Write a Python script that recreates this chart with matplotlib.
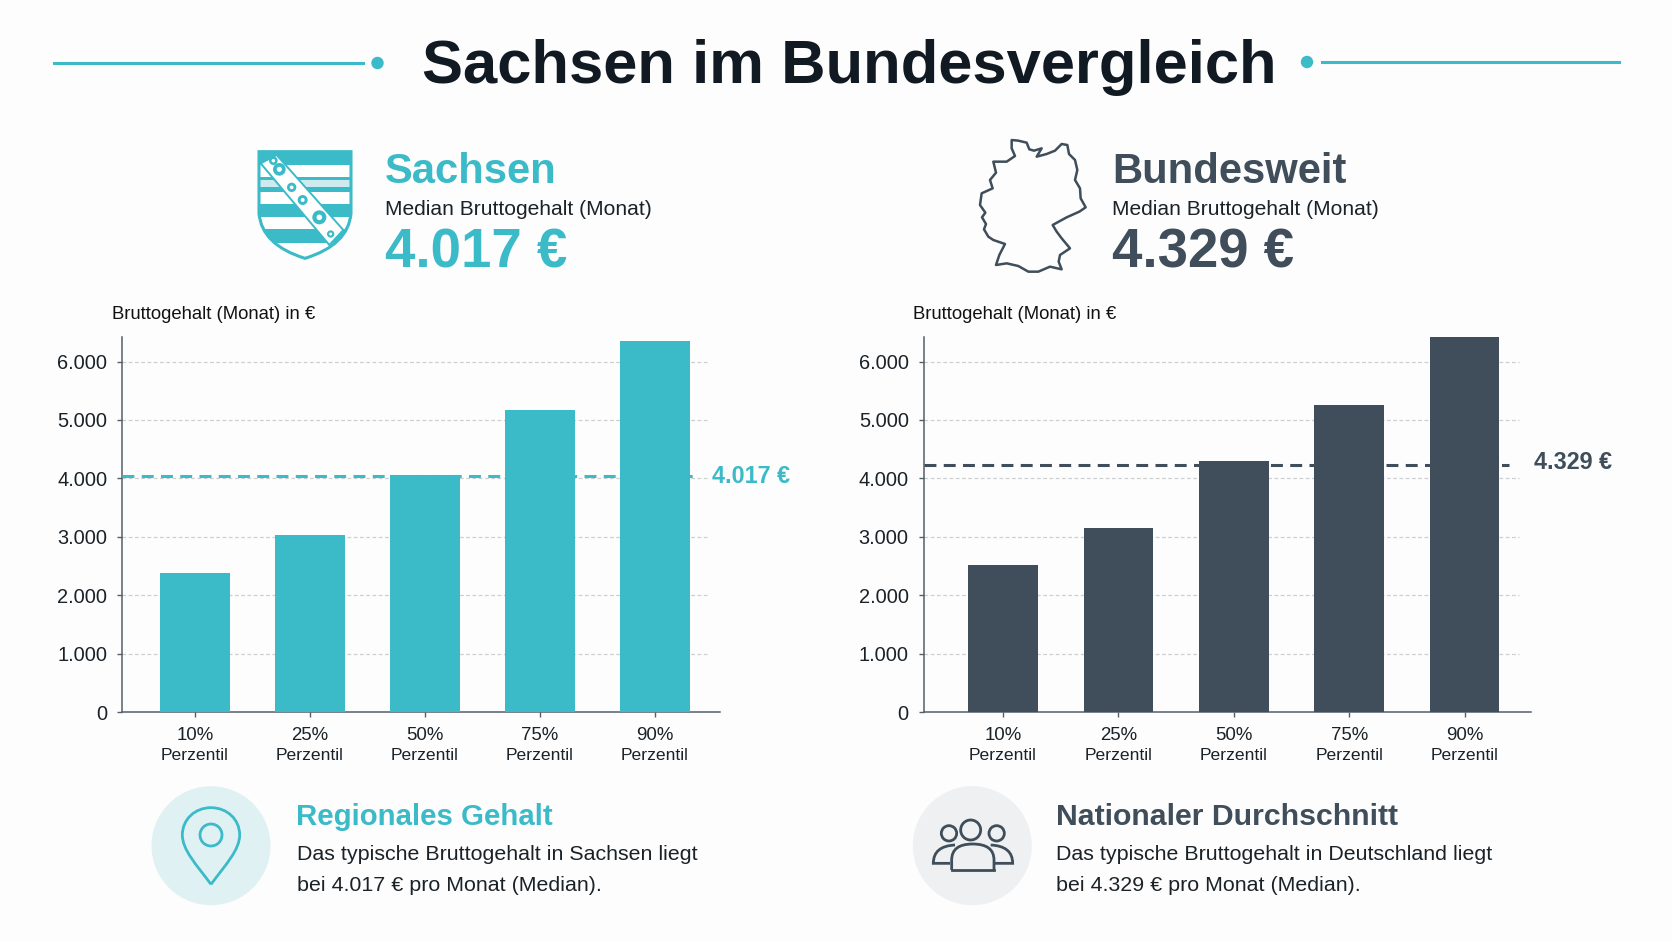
import numpy as np
import matplotlib
matplotlib.use("Agg")
import matplotlib.pyplot as plt
from matplotlib.patches import Circle, PathPatch, Polygon, Rectangle
from matplotlib.path import Path

plt.rcParams["font.family"] = ["Liberation Sans", "DejaVu Sans"]

TEAL = "#3BBAC8"
DARK = "#3F4E5A"
INK = "#111A22"
TEXT = "#1A2228"
W, H = 1672, 941

percentiles = ["10%", "25%", "50%", "75%", "90%"]
sachsen_values = [2380, 3035, 4060, 5175, 6345]
bund_values = [2525, 3145, 4300, 5250, 6420]
sachsen_line = 4040
bund_line = 4235
y_ticks = [0, 1000, 2000, 3000, 4000, 5000, 6000]
y_labels = ["0", "1.000", "2.000", "3.000", "4.000", "5.000", "6.000"]

germany = [(155, 30), (175, 32), (200, 38), (208, 58), (222, 62), (245, 55), (230, 80),
           (260, 72), (285, 62), (305, 42), (322, 45), (327, 72), (345, 90), (352, 120),
           (345, 150), (360, 175), (362, 205), (377, 232), (358, 245), (320, 262),
           (278, 285), (290, 305), (305, 325), (330, 355), (300, 375), (296, 395),
           (305, 418), (270, 410), (235, 425), (205, 425), (175, 408), (140, 400),
           (108, 405), (118, 375), (135, 342), (100, 330), (85, 320), (72, 298),
           (78, 282), (66, 262), (76, 248), (60, 225), (65, 190), (98, 175), (90, 150),
           (108, 128), (100, 95), (140, 95), (165, 78), (155, 55), (155, 30)]


def px(x, y, ox=0, oy=0, k=1):
    return ox + x / k, oy + y / k


def make_axes(fig, left, right, top, bottom):
    return fig.add_axes([left / W, 1 - bottom / H, (right - left) / W, (bottom - top) / H])


def draw_chart(ax, values, color, line_value, line_end, grid_end, first_x, step, bar_w, left, right):
    x = np.arange(len(values))
    x_min = (left - first_x) / step
    x_max = (right - first_x) / step
    ax.set_xlim(x_min, x_max)
    ax.set_ylim(0, 6421)
    ax.bar(x, values, width=bar_w / step, color=color, zorder=3)
    grid_x = (grid_end - first_x) / step
    for tick in y_ticks[1:]:
        ax.plot([x_min, grid_x], [tick, tick], color="#CDCFD1", lw=0.9, ls=(0, (3, 2)), zorder=1)
    ax.plot([x_min, (line_end - first_x) / step], [line_value, line_value], color=color, lw=2.2,
            ls=(0, (3.9, 2.4)), zorder=4)
    ax.set_yticks(y_ticks, y_labels, fontsize=14.4, color=TEXT)
    ax.set_xticks(x, percentiles, fontsize=13.4, color=TEXT)
    ax.tick_params(length=3.6, width=1, color="#555F67", pad=7)
    for i in x:
        ax.annotate("Perzentil", (i, 0), xytext=(0, -31.5), textcoords="offset points", ha="center",
                    va="center", fontsize=12.6, color=TEXT, annotation_clip=False)
    for name in ["top", "right"]:
        ax.spines[name].set_visible(False)
    for name in ["left", "bottom"]:
        ax.spines[name].set_color("#555F67")
        ax.spines[name].set_linewidth(1.1)
    ax.patch.set_alpha(0)


fig = plt.figure(figsize=(W / 100, H / 100), dpi=100, facecolor="#FDFDFD")

over = fig.add_axes([0, 0, 1, 1], zorder=5)
over.set_xlim(0, W)
over.set_ylim(H, 0)
over.axis("off")

ax_l = make_axes(fig, 122, 720, 337, 712)
draw_chart(ax_l, sachsen_values, TEAL, sachsen_line, 698, 707, 194.8, 115, 69.5, 122, 720)
ax_r = make_axes(fig, 923.5, 1531, 337, 712)
draw_chart(ax_r, bund_values, DARK, bund_line, 1509, 1519, 1003, 115.4, 69.5, 923.5, 1531)

# title with its side rules
over.text(849, 83, "Sachsen im Bundesvergleich", ha="center", va="baseline", fontsize=44.3,
          fontweight="bold", color=INK)
over.plot([54, 363], [63, 63], color=TEAL, lw=2.2)
over.plot([1322, 1619], [62, 62], color=TEAL, lw=2.2)
over.add_patch(Circle((377.5, 63), 5.5, color=TEAL))
over.add_patch(Circle((1307, 62), 5.5, color=TEAL))

# headers
for x0, name, val, col in [(385, "Sachsen", "4.017 €", TEAL), (1112, "Bundesweit", "4.329 €", DARK)]:
    over.text(x0, 183, name, fontsize=30.1, fontweight="bold", color=col, va="baseline")
    over.text(x0, 215, "Median Bruttogehalt (Monat)", fontsize=15.15, color=TEXT, va="baseline")
    over.text(x0, 267, val, fontsize=39.3, fontweight="bold", color=col, va="baseline")

over.text(112, 319, "Bruttogehalt (Monat) in €", fontsize=13.3, color="#111", va="baseline")
over.text(913, 319, "Bruttogehalt (Monat) in €", fontsize=13.3, color="#111", va="baseline")
over.text(712, 476.5, "4.017 €", fontsize=16.8, fontweight="bold", color=TEAL, va="center")
over.text(1534, 462.5, "4.329 €", fontsize=16.8, fontweight="bold", color=DARK, va="center")

# coat of arms, zoom coordinates origin 240/130
k = 3
sx, sy = 240, 130
codes = [Path.MOVETO, Path.LINETO, Path.LINETO, Path.CURVE3, Path.CURVE3, Path.CURVE3, Path.CURVE3, Path.CLOSEPOLY]
verts = [(57, 65), (333, 65), (333, 250), (325, 345), (195, 385), (65, 345), (57, 250), (57, 65)]
shield = Path([px(a, b, sx, sy, k) for a, b in verts], codes)
clip = PathPatch(shield, fc="white", ec="none", transform=over.transData)
over.add_patch(clip)
for y0, y1, c in [(65, 105, TEAL), (140, 185, TEAL), (150, 170, "#CDEBEF"), (222, 260, TEAL), (298, 338, TEAL)]:
    r = over.add_patch(Rectangle(px(50, y0, sx, sy, k), 300 / k, (y1 - y0) / k, fc=c, ec="none"))
    r.set_clip_path(clip)
band = Polygon([px(a, b, sx, sy, k) for a, b in [(62, 100), (110, 75), (310, 300), (268, 345)]],
               fc="white", ec=TEAL, lw=1.4)
over.add_patch(band)
band.set_clip_path(clip)
for a, b, rad in [(118, 118, 19), (100, 92, 13), (155, 172, 14), (188, 210, 15), (238, 262, 21), (272, 312, 11)]:
    over.add_patch(Circle(px(a, b, sx, sy, k), rad / k, fc=TEAL, ec="none"))
    over.add_patch(Circle(px(a, b, sx, sy, k), rad * 0.4 / k, fc="white", ec="none"))
over.add_patch(PathPatch(shield, fc="none", ec=TEAL, lw=2.2))

# Germany outline
over.add_patch(Polygon([px(a, b, 960, 130, 3) for a, b in germany], closed=True, fc="none",
                       ec=DARK, lw=1.8, joinstyle="round"))

# pin badge
over.add_patch(Circle((211, 845.7), 59.5, fc="#E0F1F4", ec="none"))
ox, oy = 140, 780
pin = Path([px(a, b, ox, oy, 3) for a, b in
            [(213, 313), (170, 255), (127, 210), (127, 165), (127, 118), (165, 83), (213, 83),
             (261, 83), (299, 118), (299, 165), (299, 210), (256, 255), (213, 313)]],
           [Path.MOVETO] + [Path.CURVE4] * 12)
over.add_patch(PathPatch(pin, fc="none", ec=TEAL, lw=2, joinstyle="round"))
over.add_patch(Circle(px(213, 165, ox, oy, 3), 33 / 3, fc="none", ec=TEAL, lw=2))

# people badge
over.add_patch(Circle((972.3, 845.7), 59.5, fc="#EEF0F2", ec="none"))
ox, oy = 900, 780
for a, b, rad in [(212, 150, 30), (147, 160, 23), (290, 160, 23)]:
    over.add_patch(Circle(px(a, b, ox, oy, 3), rad / 3, fc="none", ec=DARK, lw=2))


def body(points):
    codes = [Path.MOVETO, Path.LINETO, Path.CURVE3, Path.CURVE3, Path.CURVE3, Path.CURVE3, Path.LINETO]
    return Path([px(a, b, ox, oy, 3) for a, b in points], codes)


over.add_patch(PathPatch(body([(155, 270), (155, 240), (155, 192), (218, 192), (282, 192), (282, 240), (282, 270)]),
                         fc="none", ec=DARK, lw=2))
over.plot(*zip(*[px(a, b, ox, oy, 3) for a, b in [(155, 270), (282, 270)]]), color=DARK, lw=2)
left_body = Path([px(a, b, ox, oy, 3) for a, b in [(150, 250), (100, 250), (100, 198), (165, 195)]],
                 [Path.MOVETO, Path.LINETO, Path.CURVE3, Path.CURVE3])
right_body = Path([px(a, b, ox, oy, 3) for a, b in [(285, 250), (338, 250), (338, 198), (272, 195)]],
                  [Path.MOVETO, Path.LINETO, Path.CURVE3, Path.CURVE3])
over.add_patch(PathPatch(left_body, fc="none", ec=DARK, lw=2))
over.add_patch(PathPatch(right_body, fc="none", ec=DARK, lw=2))

# footer captions
over.text(296.5, 825, "Regionales Gehalt", fontsize=21.2, fontweight="bold", color=TEAL, va="baseline")
over.text(297, 860, "Das typische Bruttogehalt in Sachsen liegt", fontsize=15.4, color=TEXT, va="baseline")
over.text(297, 891, "bei 4.017 € pro Monat (Median).", fontsize=15.4, color=TEXT, va="baseline")
over.text(1056, 825, "Nationaler Durchschnitt", fontsize=21.8, fontweight="bold", color=DARK, va="baseline")
over.text(1056, 860, "Das typische Bruttogehalt in Deutschland liegt", fontsize=15.4, color=TEXT, va="baseline")
over.text(1056, 891, "bei 4.329 € pro Monat (Median).", fontsize=15.4, color=TEXT, va="baseline")

fig.savefig("out.png", dpi=100, facecolor=fig.get_facecolor())
